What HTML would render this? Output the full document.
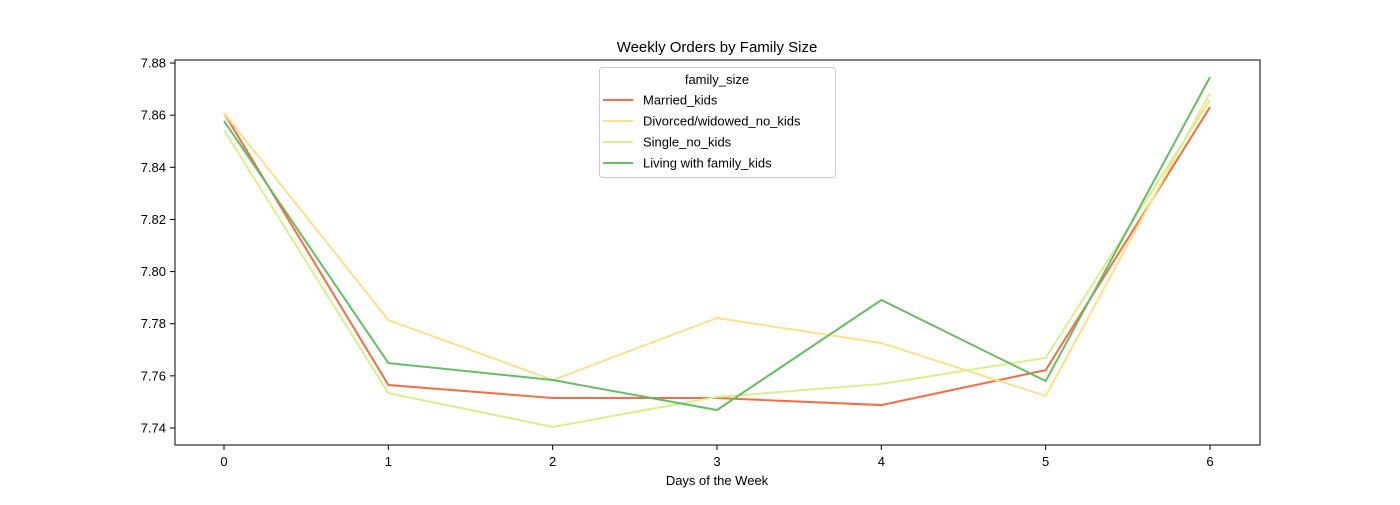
<!DOCTYPE html>
<html><head><meta charset="utf-8"><style>
body{margin:0;background:#fff}
svg text{font-family:"Liberation Sans","DejaVu Sans",sans-serif;fill:#000}
</style></head><body>
<svg id="chart" width="1400" height="500" xmlns="http://www.w3.org/2000/svg">
<rect width="1400" height="500" fill="#fff"/>
<text x="717" y="52" font-size="15" text-anchor="middle">Weekly Orders by Family Size</text>
<g id="plot"></g>
<rect x="175" y="60" width="1085" height="385" fill="none" stroke="#000" stroke-width="1"/>
<text x="717" y="485" font-size="13" text-anchor="middle">Days of the Week</text>
<g>
<rect x="599.5" y="67.5" width="236" height="110" rx="3" fill="#fff" fill-opacity="0.8" stroke="#ccc"/>
<text x="717" y="84" font-size="13" text-anchor="middle">family_size</text>
<g id="legend-items"></g>
</g>
</svg>
<script>
const days = [0,1,2,3,4,5,6];
const yTicks = [7.74,7.76,7.78,7.80,7.82,7.84,7.86,7.88];
const seriesNames = ["Married_kids","Divorced/widowed_no_kids","Single_no_kids","Living with family_kids"];
const seriesColors = ["#f46d43","#fee08b","#d9ef8b","#66bd63"];
const marriedKids = [7.8608,7.7565,7.7515,7.7515,7.7488,7.7622,7.8631];
const divorcedNoKids = [7.8608,7.7814,7.7584,7.7822,7.7726,7.7523,7.8685];
const singleNoKids = [7.8543,7.7534,7.7404,7.7519,7.7569,7.7669,7.8658];
const livingFamilyKids = [7.8578,7.7649,7.7584,7.7469,7.7891,7.7580,7.8746];
const seriesValues = [marriedKids,divorcedNoKids,singleNoKids,livingFamilyKids];

const NS="http://www.w3.org/2000/svg";
const xS = d => 224 + d*(1210-224)/6;
const yS = v => 428 - (v-7.74)/0.02*52.14;
const plot=document.getElementById('plot');
function mk(tag,attrs,parent){const e=document.createElementNS(NS,tag);for(const k in attrs)e.setAttribute(k,attrs[k]);parent.appendChild(e);return e;}
days.forEach(d=>{
  const x=xS(d);
  const t=mk('line',{x1:x,x2:x,y1:445,y2:450,stroke:'#000'},plot);
  
  
  const l=mk('text',{x:x,y:466,'font-size':13,'text-anchor':'middle'},plot);
  l.textContent=d;
  
  
});
yTicks.forEach(v=>{
  const y=yS(v);
  const t=mk('line',{x1:170,x2:175,y1:y,y2:y,stroke:'#000'},plot);
  
  
  const l=mk('text',{x:166,y:y+4.5,'font-size':13,'text-anchor':'end'},plot);
  l.textContent=v.toFixed(2);
  
  
});
seriesValues.forEach((vals,i)=>{
  const p=mk('polyline',{points:vals.map((v,j)=>xS(days[j])+','+yS(v)).join(' '),fill:'none',stroke:seriesColors[i],'stroke-width':2},plot);
  
  
});
const leg=document.getElementById('legend-items');
seriesNames.forEach((n,i)=>{
  const y=100+i*21;
  const ln=mk('line',{x1:603,x2:633,y1:y,y2:y,stroke:seriesColors[i],'stroke-width':2},leg);
  
  
  const t=mk('text',{x:643,y:y+4.5,'font-size':13},leg);
  t.textContent=n;
  
  
});
</script>
</body></html>
